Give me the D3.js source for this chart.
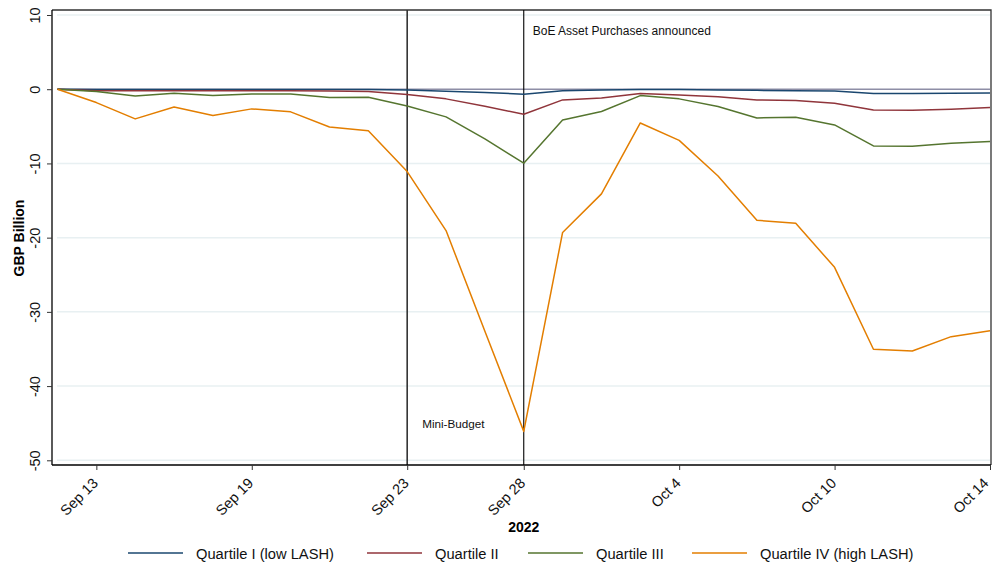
<!DOCTYPE html>
<html>
<head>
<meta charset="utf-8">
<script src="https://cdn.jsdelivr.net/npm/d3@7"></script>
<style>
  body { margin: 0; background: #fff; }
  svg { display: block; font-family: "Liberation Sans", Arial, sans-serif; }
</style>
</head>
<body>
<svg id="chart" width="992" height="568"></svg>
<script>
// Business days, Sep 12 – Oct 14, 2022
const dates = [
  "Sep 12","Sep 13","Sep 14","Sep 15","Sep 16",
  "Sep 19","Sep 20","Sep 21","Sep 22","Sep 23",
  "Sep 26","Sep 27","Sep 28","Sep 29","Sep 30",
  "Oct 3","Oct 4","Oct 5","Oct 6","Oct 7",
  "Oct 10","Oct 11","Oct 12","Oct 13","Oct 14"
];
const tickLabels = ["Sep 13","Sep 19","Sep 23","Sep 28","Oct 4","Oct 10","Oct 14"];
const yTicks = [10, 0, -10, -20, -30, -40, -50];

const quartile1 = [0,-0.05,-0.05,-0.05,-0.05,-0.05,-0.05,-0.05,-0.05,-0.1,-0.27,-0.45,-0.67,-0.2,-0.1,-0.05,-0.05,-0.1,-0.15,-0.2,-0.25,-0.59,-0.59,-0.55,-0.5];
const quartile2 = [0,-0.2,-0.2,-0.2,-0.2,-0.2,-0.2,-0.25,-0.3,-0.72,-1.3,-2.3,-3.37,-1.44,-1.17,-0.59,-0.77,-1.0,-1.44,-1.53,-1.89,-2.79,-2.83,-2.7,-2.48];
const quartile3 = [0,-0.3,-0.9,-0.55,-0.85,-0.63,-0.63,-1.13,-1.08,-2.25,-3.73,-6.7,-9.97,-4.14,-3.0,-0.86,-1.3,-2.34,-3.87,-3.78,-4.81,-7.64,-7.68,-7.28,-7.06];
const quartile4 = [0,-1.8,-4.0,-2.4,-3.55,-2.65,-3.05,-5.1,-5.6,-11.1,-19.05,-32.6,-46.1,-19.3,-14.1,-4.55,-6.9,-11.7,-17.66,-18.06,-24.0,-35.04,-35.27,-33.34,-32.53];

const seriesNames = ["Quartile I (low LASH)","Quartile II","Quartile III","Quartile IV (high LASH)"];
const seriesColors = ["#1a476f","#90353b","#55752f","#e37e00"];
const seriesValues = [quartile1, quartile2, quartile3, quartile4];

const events = [
  {date: "Sep 23", label: "Mini-Budget", color: "#333", width: 1.6},
  {date: "Sep 28", label: "BoE Asset Purchases announced", color: "#000", width: 1.1}
];

const svg = d3.select("#chart");
const frame = {left: 52, right: 991, top: 10, bottom: 465};

const x = d3.scalePoint().domain(dates).range([57.5, 990]);
const y = d3.scaleLinear().domain([-50, 10]).range([460.3, 15]);

// gridlines
svg.append("g").selectAll("line").data(yTicks).join("line")
  .attr("x1", 57).attr("x2", 990)
  .attr("y1", d => y(d)).attr("y2", d => y(d))
  .attr("stroke", d => d === 0 ? "#8e8ea6" : "#e8f0f2")
  .attr("stroke-width", 1.5);

// frame top / right
svg.append("path")
  .attr("d", `M${frame.left},${frame.top}H${frame.right}V${frame.bottom}`)
  .attr("fill", "none").attr("stroke", "#333").attr("stroke-width", 1.3);

// event lines
svg.append("g").selectAll("line").data(events).join("line")
  .attr("x1", d => x(d.date)).attr("x2", d => x(d.date))
  .attr("y1", frame.top).attr("y2", frame.bottom)
  .attr("stroke", d => d.color).attr("stroke-width", d => d.width);

// series
const line = d3.line().x((d, i) => x(dates[i])).y(d => y(d));
svg.append("g").selectAll("path").data(seriesValues).join("path")
  .attr("d", d => line(d))
  .attr("fill", "none")
  .attr("stroke", (d, i) => seriesColors[i])
  .attr("stroke-width", 1.5)
  .attr("stroke-linejoin", "round");

// annotations
svg.append("text").attr("x", x("Sep 28") + 9).attr("y", 34.5)
  .attr("font-size", 12).attr("fill", "#111").text(events[1].label);
svg.append("text").attr("x", x("Sep 23") + 15).attr("y", 428)
  .attr("font-size", 11.7).attr("fill", "#111").text(events[0].label);

// y axis
const yAxis = svg.append("g").attr("transform", `translate(${frame.left},0)`)
  .call(d3.axisLeft(y).tickValues(yTicks).tickSize(5).tickPadding(6).tickFormat(d => String(d)));
yAxis.select(".domain").attr("d", `M0,${frame.top}V${frame.bottom}`).attr("stroke", "#000").attr("stroke-width", 1.3);
yAxis.selectAll(".tick line").attr("stroke", "#333");
yAxis.selectAll(".tick text")
  .attr("font-size", 14.5).attr("fill", "#111")
  .attr("text-anchor", "middle")
  .attr("x", null).attr("dy", null)
  .attr("transform", "translate(-12,0) rotate(-90)");

// x axis
const xAxis = svg.append("g").attr("transform", `translate(0,${frame.bottom})`)
  .call(d3.axisBottom(x).tickValues(tickLabels).tickSize(5).tickPadding(4));
xAxis.select(".domain").attr("d", `M${frame.left},0H${frame.right}`).attr("stroke", "#000").attr("stroke-width", 1.3);
xAxis.selectAll(".tick line").attr("stroke", "#333");
xAxis.selectAll(".tick text")
  .attr("font-size", 14.5).attr("fill", "#111")
  .attr("text-anchor", "end")
  .attr("y", null).attr("dy", null)
  .attr("transform", (d, i, n) => i === n.length - 1 ? "translate(-1,19) rotate(-45)" : "translate(2,19) rotate(-45)");

// axis titles
svg.append("text").attr("transform", "translate(24,238) rotate(-90)")
  .attr("text-anchor", "middle").attr("font-size", 14).attr("font-weight", "bold")
  .attr("fill", "#000").text("GBP Billion");
svg.append("text").attr("x", x("Sep 28")).attr("y", 532)
  .attr("text-anchor", "middle").attr("font-size", 14).attr("font-weight", "bold")
  .attr("fill", "#000").text("2022");

// legend
const legendX = [128, 367, 528, 692];
const lg = svg.append("g").selectAll("g").data(seriesNames).join("g")
  .attr("transform", (d, i) => `translate(${legendX[i]},553)`);
lg.append("line").attr("x1", 0).attr("x2", 55).attr("y1", 0).attr("y2", 0)
  .attr("stroke", (d, i) => seriesColors[i]).attr("stroke-width", 1.5);
lg.append("text").attr("x", 68).attr("y", 5.5).attr("font-size", 14.7)
  .attr("fill", "#111").text(d => d);
</script>
</body>
</html>
